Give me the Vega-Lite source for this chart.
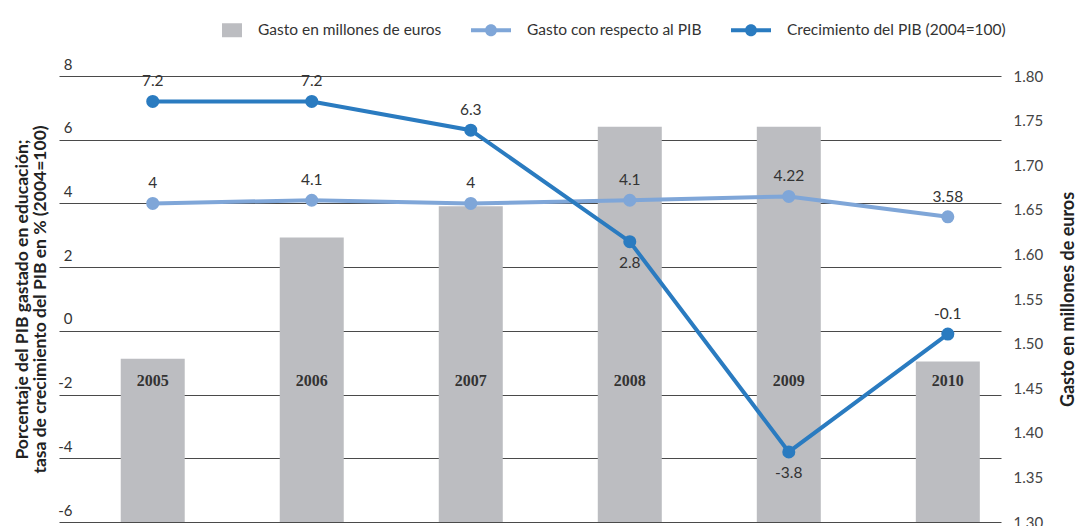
{
  "$schema": "https://vega.github.io/schema/vega-lite/v6.json",
  "width": 942,
  "height": 446,
  "autosize": {"type": "none"},
  "padding": {"left": 59, "top": 76, "right": 76, "bottom": 4},
  "background": "white",
  "config": {"view": {"stroke": null}, "font": "Lato"},
  "data": {
    "values": [
      {"year": 2005, "serie": "Gasto en millones de euros", "value": 1.483},
      {"year": 2006, "serie": "Gasto en millones de euros", "value": 1.619},
      {"year": 2007, "serie": "Gasto en millones de euros", "value": 1.654},
      {"year": 2008, "serie": "Gasto en millones de euros", "value": 1.743},
      {"year": 2009, "serie": "Gasto en millones de euros", "value": 1.743},
      {"year": 2010, "serie": "Gasto en millones de euros", "value": 1.48},
      {"year": 2005, "serie": "Gasto con respecto al PIB", "value": 4},
      {"year": 2006, "serie": "Gasto con respecto al PIB", "value": 4.1},
      {"year": 2007, "serie": "Gasto con respecto al PIB", "value": 4},
      {"year": 2008, "serie": "Gasto con respecto al PIB", "value": 4.1},
      {"year": 2009, "serie": "Gasto con respecto al PIB", "value": 4.22},
      {"year": 2010, "serie": "Gasto con respecto al PIB", "value": 3.58},
      {"year": 2005, "serie": "Crecimiento del PIB (2004=100)", "value": 7.2},
      {"year": 2006, "serie": "Crecimiento del PIB (2004=100)", "value": 7.2},
      {"year": 2007, "serie": "Crecimiento del PIB (2004=100)", "value": 6.3},
      {"year": 2008, "serie": "Crecimiento del PIB (2004=100)", "value": 2.8},
      {"year": 2009, "serie": "Crecimiento del PIB (2004=100)", "value": -3.8},
      {"year": 2010, "serie": "Crecimiento del PIB (2004=100)", "value": -0.1}
    ]
  },
  "layer": [
    {
      "transform": [{"filter": "datum.serie === 'Gasto en millones de euros'"}],
      "encoding": {
        "x": {"field": "year", "type": "quantitative", "scale": {"domain": [2004.442, 2010.303], "nice": false, "zero": false}, "axis": null}
      },
      "layer": [
        {
          "mark": {"type": "bar", "size": 64},
          "encoding": {
            "y": {
              "field": "value", "type": "quantitative",
              "scale": {"domain": [1.3, 1.8], "nice": false, "zero": false},
              "axis": {
                "orient": "right",
                "values": [1.3, 1.35, 1.4, 1.45, 1.5, 1.55, 1.6, 1.65, 1.7, 1.75, 1.8],
                "format": ".2f",
                "grid": false, "domain": false, "ticks": false,
                "labelPadding": 12, "labelFontSize": 15, "labelColor": "#444", "labelAlign": "left", "labelOverlap": false, "labelFont": "Lato",
                "title": "Gasto en millones de euros",
                "titleX": 67, "titleY": 223, "titleAngle": 270, "titleAlign": "center", "titleBaseline": "middle",
                "titleFontSize": 18, "titleFontWeight": "bold", "titleColor": "#222", "titleFont": "Lato"
              }
            },
            "y2": {"datum": 1.3},
            "color": {
              "field": "serie", "type": "nominal",
              "scale": {"domain": ["Gasto en millones de euros", "Gasto con respecto al PIB", "Crecimiento del PIB (2004=100)"], "range": ["#bcbdc1", "#7fa6d8", "#2a7bc0"]},
              "legend": {
                "orient": "none", "legendX": 143, "legendY": -66, "direction": "horizontal",
                "title": null, "columnPadding": 29, "labelOffset": 16, "labelFontSize": 15.5, "labelFont": "Lato", "labelColor": "#333",
                "symbolSize": 1600, "labelLimit": 400,
                "encode": {
                  "symbols": {
                    "update": {
                      "shape": {"signal": "datum.value === 'Gasto en millones de euros' ? 'M0,-0.35H1V0.35H0Z' : 'M-1,-0.1H1V0.1H-1Z M-0.3,0A0.3,0.3 0 1,1 0.3,0A0.3,0.3 0 1,1 -0.3,0Z'"},
                      "fill": {"scale": "color", "field": "value"},
                      "stroke": {"value": "transparent"},
                      "strokeWidth": {"value": 0},
                      "opacity": {"value": 1}
                    }
                  }
                }
              }
            }
          }
        },
        {
          "mark": {"type": "text", "font": "Liberation Serif", "fontWeight": "bold", "fontSize": 16, "color": "#333", "baseline": "middle"},
          "encoding": {
            "y": {"datum": 1.458},
            "text": {"field": "year", "type": "nominal"}
          }
        }
      ]
    },
    {
      "transform": [{"filter": "datum.serie !== 'Gasto en millones de euros'"}],
      "encoding": {
        "x": {"field": "year", "type": "quantitative", "scale": {"domain": [2004.442, 2010.303], "nice": false, "zero": false}, "axis": null},
        "y": {
          "field": "value", "type": "quantitative",
          "scale": {"domain": [-6, 8], "nice": false, "zero": false},
          "axis": {
            "orient": "left",
            "values": [-6, -4, -2, 0, 2, 4, 6, 8],
            "labelExpr": "'' + datum.value",
            "grid": true, "gridColor": "#4a4a4a", "gridWidth": 1.2,
            "domain": false, "ticks": false,
            "labelAlign": "right", "labelPadding": -13, "labelOffset": -12, "labelBaseline": "middle",
            "labelFontSize": 15, "labelColor": "#333", "labelFont": "Lato", "labelOverlap": false,
            "title": ["Porcentaje del PIB gastado en educación;", "tasa de crecimiento del PIB en %  (2004=100)"],
            "titleX": -37, "titleY": 223, "titleAngle": 270, "titleAlign": "center", "titleBaseline": "middle",
            "titleFontSize": 17.5, "titleFont": "Lato", "titleFontWeight": "bold", "titleColor": "#222", "titleLineHeight": 18
          }
        }
      },
      "layer": [
        {
          "mark": {"type": "line", "strokeWidth": 4, "point": {"filled": true, "size": 170, "opacity": 1}},
          "encoding": {
            "color": {
              "field": "serie", "type": "nominal",
              "scale": {"domain": ["Gasto en millones de euros", "Gasto con respecto al PIB", "Crecimiento del PIB (2004=100)"], "range": ["#bcbdc1", "#7fa6d8", "#2a7bc0"]}
            }
          }
        },
        {
          "transform": [{"filter": "!(datum.serie === 'Crecimiento del PIB (2004=100)' && (datum.year === 2008 || datum.year === 2009))"}],
          "mark": {"type": "text", "fontSize": 15.5, "font": "Lato", "color": "#333", "baseline": "middle", "dy": -20},
          "encoding": {
            "text": {"field": "value", "type": "nominal"}
          }
        },
        {
          "transform": [{"filter": "datum.serie === 'Crecimiento del PIB (2004=100)' && (datum.year === 2008 || datum.year === 2009)"}],
          "mark": {"type": "text", "fontSize": 15.5, "font": "Lato", "color": "#333", "baseline": "middle", "dy": 21},
          "encoding": {
            "text": {"field": "value", "type": "nominal"}
          }
        }
      ]
    }
  ],
  "resolve": {"scale": {"y": "independent"}}
}
